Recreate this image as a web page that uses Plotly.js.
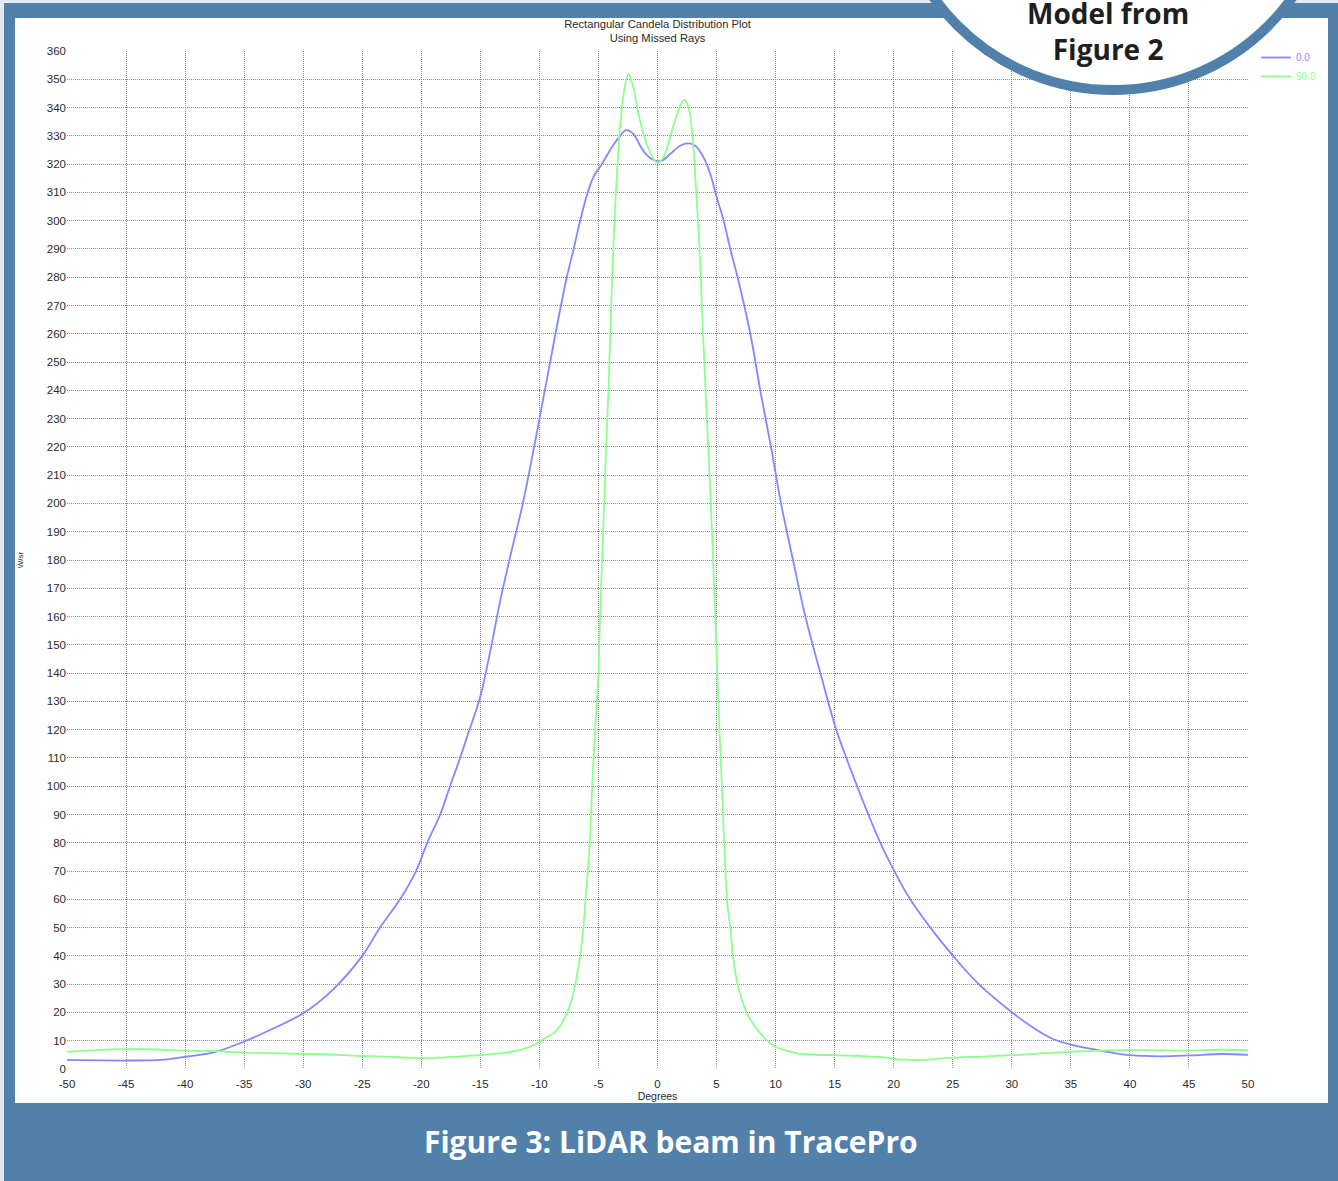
<!DOCTYPE html>
<html>
<head>
<meta charset="utf-8">
<script src="https://cdn.plot.ly/plotly-3.0.1.min.js"></script>
<style>
  html, body { margin: 0; padding: 0; background: #5181ab; }
  #chart { width: 1338px; height: 1181px; }
</style>
</head>
<body>
<div id="chart"></div>
<script>
// ---- Data ----
const seriesNames = ["0.0", "90.0"];

// Series "0.0" (blue)
const deg00 = [-50, -45, -42, -40, -37.5, -35, -32.5, -30, -27.5, -25, -23.5, -21.8, -20.45, -19.5, -18.4, -17.57, -16.8, -16.0, -15.05, -14.1, -13.3, -12.2, -11.4, -10.45, -9.54, -8.64, -7.68, -7.1, -6.55, -5.98, -5.42, -4.71, -3.86, -3.16, -2.65, -2.03, -1.47, -0.9, -0.19, 0.37, 1.08, 1.92, 2.63, 3.19, 3.9, 4.47, 5.03, 5.6, 6.16, 6.78, 7.86, 8.7, 9.61, 10.46, 11.47, 12.52, 13.79, 15.14, 16.9, 18.87, 20.05, 21.4, 23.1, 25.03, 27.2, 30.03, 31.5, 33.4, 35.1, 38.1, 40, 42.6, 45.1, 47.7, 50];
const val00 = [3.2, 3.0, 3.2, 4.3, 6.0, 9.7, 14.4, 19.7, 28, 40, 50, 60, 70, 80, 90, 100, 109, 119, 131, 149, 166, 186, 200, 220, 240, 260, 280, 290, 300, 309, 315.5, 320, 326, 330, 332, 330.6, 326.5, 323.2, 321.2, 321.2, 323.6, 326.5, 327.3, 326.5, 322.4, 316.5, 308, 300, 290, 280, 260, 240, 220, 200, 180, 160, 140, 120, 100, 80, 70, 60, 50, 40, 30, 20, 15.5, 10.8, 8.5, 6.1, 4.9, 4.5, 4.8, 5.3, 5.0];

// Series "90.0" (green)
const deg90 = [-50, -47.5, -45, -42.5, -40, -37.5, -35, -32.5, -30, -27.5, -25, -22.5, -20, -17.5, -15, -13, -11.9, -11, -10.08, -9.5, -8.81, -8.2, -7.68, -7.3, -6.97, -6.55, -6.27, -6.1, -5.9, -5.73, -5.53, -5.28, -5.0, -4.86, -4.69, -4.52, -4.35, -4.15, -4.0, -3.84, -3.64, -3.44, -3.16, -2.74, -2.46, -2.09, -1.61, -0.9, -0.05, 0.51, 1.22, 1.92, 2.26, 2.63, 3.0, 3.28, 3.56, 3.76, 3.96, 4.18, 4.41, 4.61, 4.8, 4.97, 5.25, 5.45, 5.65, 5.88, 6.16, 6.39, 6.78, 7.58, 8.7, 10.06, 11, 12.2, 13.8, 15, 17, 19.15, 20.6, 22.3, 25.1, 27.5, 30.1, 32.5, 35.1, 37.5, 40.06, 42.5, 45.1, 47.5, 50];
const val90 = [6.1, 6.7, 7.0, 6.9, 6.5, 6.3, 5.8, 5.6, 5.3, 5.1, 4.6, 4.3, 3.8, 4.2, 4.9, 5.7, 6.5, 7.6, 9.3, 11, 12.6, 15.5, 19.7, 24, 29.7, 40, 50, 60, 70, 80, 100, 120, 140, 160, 180, 200, 220, 240, 260, 280, 300, 316, 334, 348, 352, 348, 337.7, 327, 320.5, 322.4, 331.8, 340.6, 342.7, 340, 328, 310, 290, 270, 250, 230, 210, 190, 170, 150, 120, 100, 80, 60, 50, 40, 30, 19.7, 12.6, 7.7, 6.4, 5.3, 5.0, 4.9, 4.6, 4.1, 3.4, 3.2, 4.0, 4.4, 4.9, 5.5, 6.1, 6.5, 6.7, 6.6, 6.5, 6.8, 6.7];

// Axis ticks
const xTickVals = [-50, -45, -40, -35, -30, -25, -20, -15, -10, -5, 0, 5, 10, 15, 20, 25, 30, 35, 40, 45, 50];
const xTickText = ["-50", "-45", "-40", "-35", "-30", "-25", "-20", "-15", "-10", "-5", "0", "5", "10", "15", "20", "25", "30", "35", "40", "45", "50"];
const yTickVals = [0, 10, 20, 30, 40, 50, 60, 70, 80, 90, 100, 110, 120, 130, 140, 150, 160, 170, 180, 190, 200, 210, 220, 230, 240, 250, 260, 270, 280, 290, 300, 310, 320, 330, 340, 350, 360];
const yTickText = yTickVals.map(String);

// Texts
const chartTitle = "Rectangular Candela Distribution Plot<br>Using Missed Rays";
const xTitle = "Degrees";
const yTitle = "W/sr";
const captionText = "Figure 3: LiDAR beam in TracePro";
const badgeText = "Model from<br>Figure 2";

// ---- Styling / layout ----
const W = 1338, H = 1181;
const M = { l: 67, r: 90, t: 51, b: 112 };
const plotW = W - M.l - M.r, plotH = H - M.t - M.b;
const px2fx = px => (px - M.l) / plotW;
const py2fy = py => (H - M.b - py) / plotH;

const frameBlue = "#5181ab";
const lightBg = "#e3eaf2";
const blueLine = "#8686ff";
const greenLine = "#8cff8c";
const txtFamily = "Liberation Sans, Arial, sans-serif";

const traces = [
  { x: deg00, y: val00, type: "scatter", mode: "lines",
    name: '<span style="color:' + blueLine + '">' + seriesNames[0] + '</span>',
    line: { color: blueLine, width: 1.8, shape: "spline", smoothing: 1 } },
  { x: deg90, y: val90, type: "scatter", mode: "lines",
    name: '<span style="color:' + greenLine + '">' + seriesNames[1] + '</span>',
    line: { color: greenLine, width: 1.8, shape: "spline", smoothing: 0.8 } }
];

const tickFont = { family: txtFamily, size: 11.5, color: "#2a2a2a" };

const layout = {
  width: W, height: H,
  margin: { l: M.l, r: M.r, t: M.t, b: M.b, pad: 0 },
  paper_bgcolor: frameBlue,
  plot_bgcolor: "#ffffff",
  font: { family: txtFamily, color: "#2a2a2a" },
  title: { text: chartTitle, font: { family: txtFamily, size: 11.2, color: "#2a2a2a" },
           x: 0.5, xref: "paper", xanchor: "center", y: 1 - 27.5 / H, yref: "container", yanchor: "middle" },
  showlegend: true,
  legend: { x: px2fx(1256), xanchor: "left", y: py2fy(43), yanchor: "top",
            bgcolor: "rgba(0,0,0,0)", font: { size: 10, family: txtFamily },
            tracegroupgap: 0, itemwidth: 30 },
  xaxis: {
    range: [-50, 50], tickmode: "array", tickvals: xTickVals, ticktext: xTickText,
    showgrid: true, gridcolor: "#8c8c8c", gridwidth: 1, griddash: "1px,1px",
    zeroline: false, showline: false, ticks: "", tickfont: tickFont, automargin: false,
    ticklabelstandoff: 6,
    title: { text: xTitle, font: { size: 10.5, family: txtFamily, color: "#2a2a2a" }, standoff: 4 }
  },
  yaxis: {
    range: [0, 360], tickmode: "array", tickvals: yTickVals, ticktext: yTickText,
    showgrid: true, gridcolor: "#8c8c8c", gridwidth: 1, griddash: "1px,1px",
    zeroline: false, showline: false, ticks: "", tickfont: tickFont, automargin: false,
    title: { text: yTitle, font: { size: 8, family: txtFamily, color: "#2a2a2a" }, standoff: 22 }
  },
  shapes: [
    // white card
    { type: "rect", xref: "paper", yref: "paper", layer: "below",
      x0: px2fx(15), x1: px2fx(1328), y0: py2fy(1103), y1: py2fy(18),
      fillcolor: "#ffffff", line: { width: 0 } },
    // light page edge (top)
    { type: "rect", xref: "paper", yref: "paper", layer: "below",
      x0: px2fx(0), x1: px2fx(W), y0: py2fy(3), y1: py2fy(0),
      fillcolor: lightBg, line: { width: 0 } },
    // light page edge (left)
    { type: "rect", xref: "paper", yref: "paper", layer: "below",
      x0: px2fx(0), x1: px2fx(4), y0: py2fy(H), y1: py2fy(0),
      fillcolor: lightBg, line: { width: 0 } },
    // badge circle
    { type: "circle", xref: "paper", yref: "paper", layer: "above",
      x0: px2fx(1113 - 220), x1: px2fx(1113 + 220), y0: py2fy(-130 + 220), y1: py2fy(-130 - 220),
      fillcolor: "#ffffff", line: { color: frameBlue, width: 10 } }
  ],
  annotations: [
    { text: "<b>" + badgeText + "</b>", xref: "paper", yref: "paper",
      x: px2fx(1108), y: py2fy(30.5), xanchor: "center", yanchor: "middle", showarrow: false,
      font: { family: "Open Sans, sans-serif", size: 28, color: "#1e1e1e" } },
    { text: "<b>" + captionText + "</b>", xref: "paper", yref: "paper",
      x: px2fx(671), y: py2fy(1141), xanchor: "center", yanchor: "middle", showarrow: false,
      font: { family: "Open Sans, sans-serif", size: 30, color: "#ffffff" } }
  ]
};

Plotly.newPlot("chart", traces, layout, { displayModeBar: false, staticPlot: true });
</script>
</body>
</html>
